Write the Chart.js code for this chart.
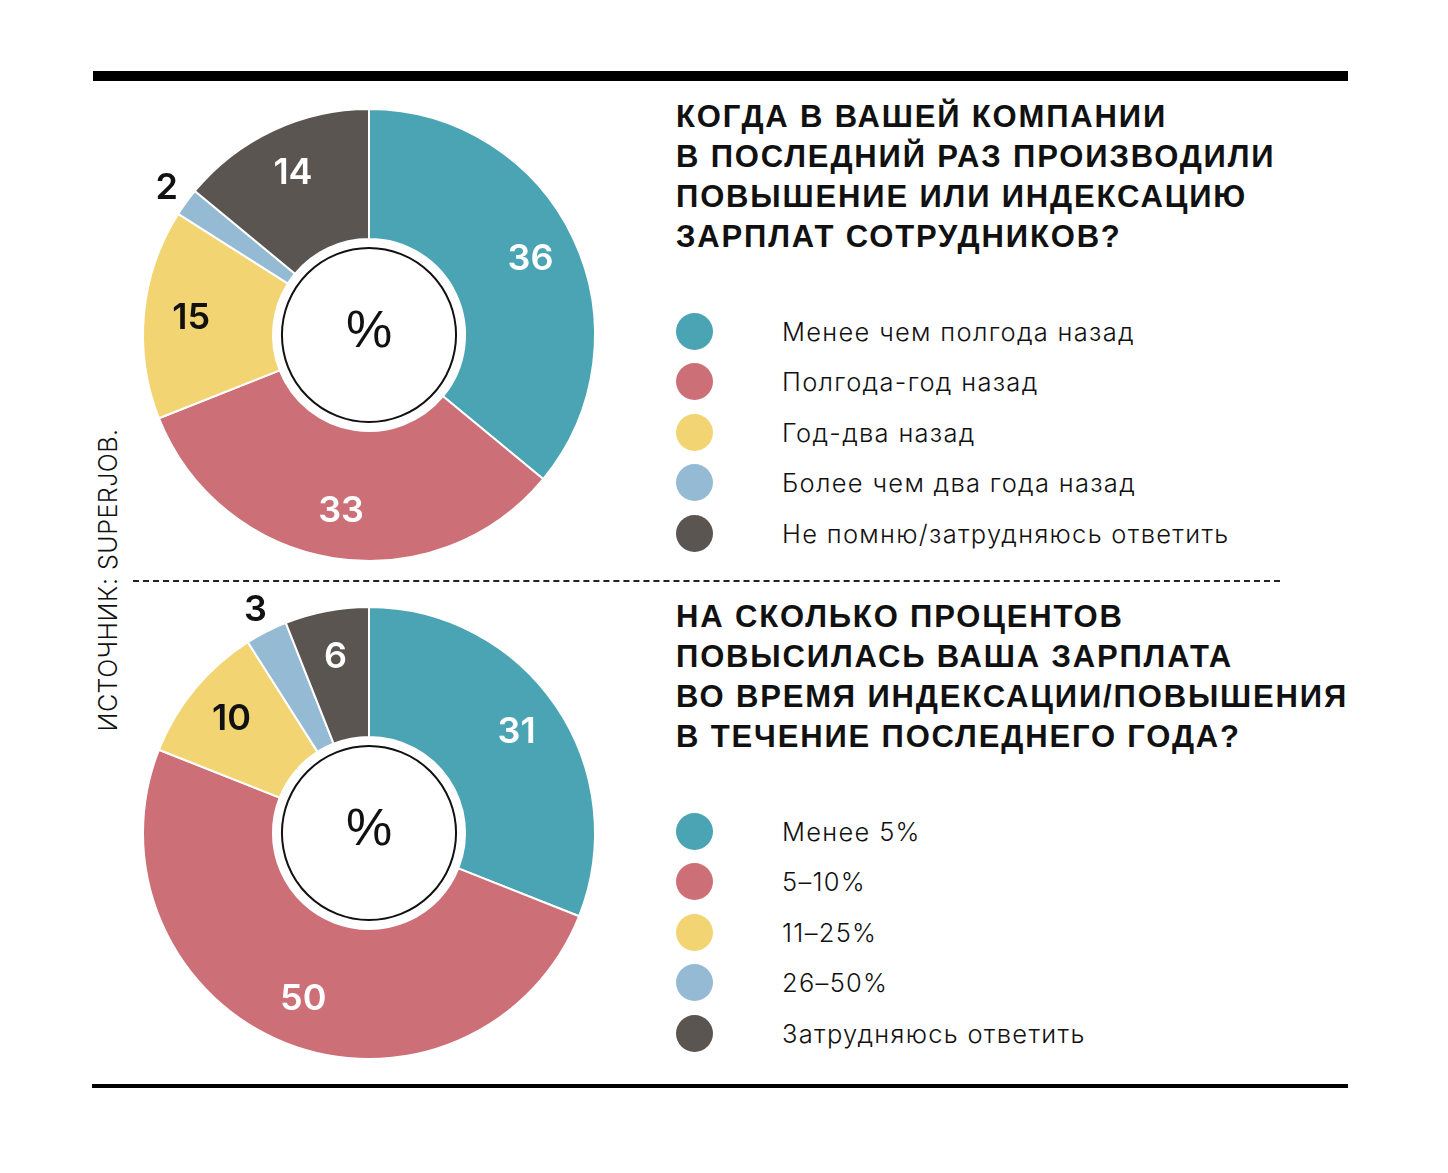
<!DOCTYPE html>
<html lang="ru">
<head>
<meta charset="utf-8">
<title>Повышение зарплат</title>
<script src="https://cdn.jsdelivr.net/npm/chart.js@4.4.1/dist/chart.umd.min.js"></script>
<style>
  html, body { margin: 0; padding: 0; background: #fff; }
  body { width: 1448px; height: 1173px; position: relative; overflow: hidden; font-family: Inter, "Liberation Sans", sans-serif; color: #111; }
  .rule-top { position: absolute; left: 93px; top: 71px; width: 1255px; height: 10px; background: #000; }
  .rule-bottom { position: absolute; left: 92px; top: 1084px; width: 1256px; height: 4px; background: #000; }
  .rule-dots { position: absolute; left: 133px; top: 580px; width: 1147px; height: 0; border-top: 2px dashed #222; }
  .chart-box { position: absolute; width: 540px; height: 540px; }
  .title { position: absolute; left: 676px; font-family: "Liberation Sans", Arial, sans-serif; font-weight: 700; font-size: 31px; line-height: 40px; letter-spacing: 1.85px; color: #111; white-space: nowrap; }
  .legend { position: absolute; left: 676px; margin: 0; padding: 0; list-style: none; }
  .legend li { height: 50.5px; display: flex; align-items: center; font-size: 25.5px; font-weight: 300; letter-spacing: 1.3px; white-space: nowrap; }
  .legend .dot { width: 37px; height: 37px; border-radius: 50%; margin-right: 69px; flex: none; }
  .source { position: absolute; left: 108px; top: 580px; transform: translate(-50%, -50%) rotate(-90deg); font-size: 25px; font-weight: 300; letter-spacing: 0.5px; white-space: nowrap; }
</style>
</head>
<body>
<div class="rule-top"></div>
<div class="rule-dots"></div>
<div class="rule-bottom"></div>
<div class="source">ИСТОЧНИК: SUPERJOB.</div>

<div class="chart-box" style="left:99px; top:65px;"><canvas id="chartTop"></canvas></div>
<div class="chart-box" style="left:99px; top:563px;"><canvas id="chartBottom"></canvas></div>

<div class="title" id="titleTop" style="top:97px;"></div>
<ul class="legend" id="legendTop" style="top:306px;"></ul>
<div class="title" id="titleBottom" style="top:597px;"></div>
<ul class="legend" id="legendBottom" style="top:806px;"></ul>

<script>
// data (percent)
const colors = ['#4ba4b3', '#cc6f77', '#f2d473', '#95bbd4', '#5a5551'];

const topTitle = ['КОГДА В ВАШЕЙ КОМПАНИИ', 'В ПОСЛЕДНИЙ РАЗ ПРОИЗВОДИЛИ', 'ПОВЫШЕНИЕ ИЛИ ИНДЕКСАЦИЮ', 'ЗАРПЛАТ СОТРУДНИКОВ?'];
const topLabels = ['Менее чем полгода назад', 'Полгода-год назад', 'Год-два назад', 'Более чем два года назад', 'Не помню/затрудняюсь ответить'];
const topValues = [36, 33, 15, 2, 14];

const bottomTitle = ['НА СКОЛЬКО ПРОЦЕНТОВ', 'ПОВЫСИЛАСЬ ВАША ЗАРПЛАТА', 'ВО ВРЕМЯ ИНДЕКСАЦИИ/ПОВЫШЕНИЯ', 'В ТЕЧЕНИЕ ПОСЛЕДНЕГО ГОДА?'];
const bottomLabels = ['Менее 5%', '5–10%', '11–25%', '26–50%', 'Затрудняюсь ответить'];
const bottomValues = [31, 50, 10, 3, 6];

// number colour on each slice: white on dark slices, black on light ones
const valueTextColors = ['#fff', '#fff', '#111', '#111', '#fff'];

// labels on slices; small slices get their number outside the ring
const sliceLabels = {
  id: 'sliceLabels',
  afterDatasetsDraw(chart) {
    const ctx = chart.ctx;
    const meta = chart.getDatasetMeta(0);
    const values = chart.data.datasets[0].data;
    ctx.save();
    ctx.font = '600 36px Inter, "Liberation Sans", sans-serif';
    ctx.textAlign = 'center';
    ctx.textBaseline = 'middle';
    meta.data.forEach((arc, i) => {
      const p = arc.getProps(['x', 'y', 'startAngle', 'endAngle', 'outerRadius'], true);
      const mid = (p.startAngle + p.endAngle) / 2;
      const small = values[i] < 5;
      const r = small ? p.outerRadius + 24 : p.outerRadius * 0.79;
      ctx.fillStyle = small ? '#111' : valueTextColors[i];
      ctx.fillText(String(values[i]), p.x + Math.cos(mid) * r, p.y + Math.sin(mid) * r);
    });
    ctx.restore();
  }
};

// black ring and "%" in the hole
const centerMark = {
  id: 'centerMark',
  afterDraw(chart) {
    const ctx = chart.ctx;
    const arc = chart.getDatasetMeta(0).data[0];
    if (!arc) return;
    const { x, y, innerRadius } = arc.getProps(['x', 'y', 'innerRadius'], true);
    ctx.save();
    ctx.beginPath();
    ctx.arc(x, y, innerRadius - 9, 0, Math.PI * 2);
    ctx.lineWidth = 2;
    ctx.strokeStyle = '#111';
    ctx.stroke();
    ctx.font = '400 52px "Liberation Sans", Arial, sans-serif';
    ctx.fillStyle = '#111';
    ctx.textAlign = 'center';
    ctx.textBaseline = 'middle';
    ctx.fillText('%', x, y - 2);
    ctx.restore();
  }
};

function makeDonut(id, labels, values) {
  return new Chart(document.getElementById(id), {
    type: 'doughnut',
    data: {
      labels: labels,
      datasets: [{
        data: values,
        backgroundColor: colors,
        borderColor: '#fff',
        borderWidth: 2,
        hoverOffset: 0
      }]
    },
    options: {
      responsive: true,
      maintainAspectRatio: false,
      animation: false,
      cutout: '42.5%',
      layout: { padding: 43 },
      plugins: {
        legend: { display: false },
        tooltip: { enabled: false }
      }
    },
    plugins: [sliceLabels, centerMark]
  });
}

function fillTitle(id, lines) {
  document.getElementById(id).innerHTML = lines.join('<br>');
}

function fillLegend(id, labels) {
  const ul = document.getElementById(id);
  labels.forEach((text, i) => {
    const li = document.createElement('li');
    const dot = document.createElement('span');
    dot.className = 'dot';
    dot.style.background = colors[i];
    li.appendChild(dot);
    li.appendChild(document.createTextNode(text));
    ul.appendChild(li);
  });
}

makeDonut('chartTop', topLabels, topValues);
makeDonut('chartBottom', bottomLabels, bottomValues);
fillTitle('titleTop', topTitle);
fillTitle('titleBottom', bottomTitle);
fillLegend('legendTop', topLabels);
fillLegend('legendBottom', bottomLabels);
</script>
</body>
</html>
